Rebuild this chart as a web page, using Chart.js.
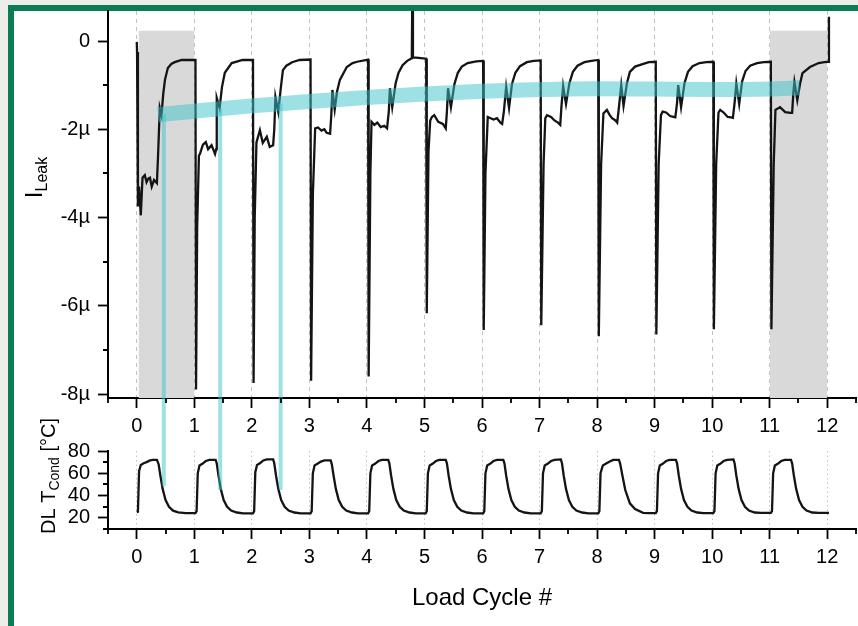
<!DOCTYPE html>
<html>
<head>
<meta charset="utf-8">
<script src="https://cdn.jsdelivr.net/npm/chart.js@4.4.1/dist/chart.umd.min.js"></script>
<style>
html, body { margin: 0; padding: 0; background: #ededea; overflow: hidden; width: 858px; height: 626px; }
#frame { position: absolute; left: 8px; top: 5px; width: 900px; height: 700px; border: 6px solid #0b7d52; background: #fff; }
canvas { position: absolute; left: 0; }
#leak { top: 0; }
#temp { top: 400px; }
</style>
</head>
<body>
<div id="frame"></div>
<canvas id="leak" width="858" height="440"></canvas>
<canvas id="temp" width="858" height="226"></canvas>
<script>
const FONT = "'Liberation Sans', Arial, sans-serif";

// axes
const xTicks = [0, 1, 2, 3, 4, 5, 6, 7, 8, 9, 10, 11, 12];
const xMinor = [-0.5, 0.5, 1.5, 2.5, 3.5, 4.5, 5.5, 6.5, 7.5, 8.5, 9.5, 10.5, 11.5, 12.5];
const leakTicks = [-8, -6, -4, -2, 0];
const leakMinor = [-7, -5, -3, -1];
const tempTicks = [20, 40, 60, 80];
const tempMinor = [10, 30, 50, 70];

// shaded cycles (first and last)
const grayBoxes = [[0.03, 1], [11, 12]];
const boxTop = 0.23;

// leakage current, in µA
const leakData = [
  [0,-0.02],[0.005,-0.25],[0.02,-3.75],[0.04,-3.3],[0.07,-3.95],[0.1,-3.1],[0.14,-3.04],[0.17,-3.2],[0.2,-3.12],[0.23,-3.1],[0.26,-3.3],[0.3,-3.15],[0.35,-3.22],[0.37,-2.6],[0.4,-1.52],[0.43,-1.68],[0.46,-1.2],[0.49,-0.88],[0.54,-0.61],[0.6,-0.52],[0.66,-0.48],[0.78,-0.43],[1.02,-0.43],
  [1.03,-7.9],[1.05,-4.2],[1.08,-2.6],[1.1,-2.55],[1.15,-2.35],[1.2,-2.29],[1.24,-2.45],[1.3,-2.36],[1.36,-2.56],[1.38,-2.45],[1.39,-1.29],[1.44,-1.52],[1.48,-1.05],[1.53,-0.72],[1.65,-0.5],[1.84,-0.43],[2.02,-0.43],
  [2.03,-7.75],[2.05,-4.0],[2.08,-2.3],[2.14,-2.02],[2.19,-2.31],[2.26,-2.17],[2.31,-2.4],[2.37,-2.36],[2.39,-2.0],[2.41,-1.27],[2.46,-1.61],[2.5,-1.1],[2.54,-0.66],[2.6,-0.56],[2.7,-0.48],[2.83,-0.43],[3.02,-0.42],
  [3.03,-7.7],[3.06,-3.5],[3.1,-1.98],[3.15,-1.96],[3.21,-2.03],[3.26,-2.0],[3.3,-2.08],[3.36,-2.1],[3.38,-1.7],[3.4,-1.11],[3.44,-1.55],[3.48,-1.15],[3.53,-0.88],[3.65,-0.59],[3.75,-0.5],[3.83,-0.47],[4.02,-0.42],
  [4.03,-7.6],[4.06,-3.0],[4.08,-1.83],[4.13,-1.9],[4.18,-1.85],[4.24,-1.95],[4.3,-1.92],[4.35,-1.98],[4.38,-1.6],[4.4,-1.07],[4.44,-1.5],[4.5,-0.95],[4.55,-0.72],[4.62,-0.55],[4.7,-0.45],[4.78,-0.39],[4.79,1.2],[4.8,-0.37],[4.9,-0.38],[5.03,-0.4],
  [5.04,-6.17],[5.07,-2.5],[5.1,-1.8],[5.13,-1.72],[5.17,-1.68],[5.24,-1.83],[5.32,-1.88],[5.37,-1.98],[5.39,-1.6],[5.41,-1.07],[5.46,-1.5],[5.52,-0.98],[5.58,-0.72],[5.65,-0.58],[5.75,-0.5],[5.9,-0.46],[6.02,-0.45],
  [6.03,-6.55],[6.06,-3.0],[6.1,-1.72],[6.15,-1.75],[6.2,-1.78],[6.26,-1.75],[6.32,-1.85],[6.35,-1.88],[6.38,-1.6],[6.42,-1.04],[6.47,-1.52],[6.52,-0.98],[6.58,-0.72],[6.66,-0.57],[6.78,-0.48],[6.9,-0.45],[7.02,-0.44],
  [7.03,-6.44],[7.07,-2.8],[7.1,-1.75],[7.13,-1.68],[7.2,-1.72],[7.26,-1.8],[7.32,-1.85],[7.36,-1.9],[7.38,-1.5],[7.41,-1.02],[7.46,-1.43],[7.52,-0.95],[7.58,-0.7],[7.66,-0.56],[7.78,-0.48],[7.9,-0.45],[8.02,-0.43],
  [8.03,-6.69],[8.07,-2.8],[8.11,-1.64],[8.17,-1.56],[8.22,-1.68],[8.26,-1.75],[8.32,-1.8],[8.35,-1.85],[8.38,-1.5],[8.42,-1.0],[8.46,-1.47],[8.52,-0.95],[8.57,-0.7],[8.66,-0.58],[8.75,-0.54],[8.9,-0.48],[9.02,-0.47],
  [9.03,-6.65],[9.07,-2.8],[9.11,-1.68],[9.14,-1.6],[9.2,-1.62],[9.27,-1.7],[9.33,-1.72],[9.36,-1.73],[9.39,-1.4],[9.41,-1.0],[9.46,-1.5],[9.52,-0.95],[9.58,-0.7],[9.66,-0.57],[9.78,-0.5],[9.9,-0.48],[10.02,-0.47],
  [10.03,-6.53],[10.07,-2.8],[10.11,-1.62],[10.14,-1.56],[10.2,-1.62],[10.27,-1.72],[10.33,-1.73],[10.36,-1.74],[10.39,-1.4],[10.42,-0.96],[10.47,-1.43],[10.52,-0.92],[10.58,-0.68],[10.66,-0.56],[10.78,-0.5],[10.9,-0.48],[11.02,-0.47],
  [11.03,-6.53],[11.07,-2.8],[11.1,-1.56],[11.18,-1.5],[11.27,-1.61],[11.36,-1.63],[11.39,-1.63],[11.41,-1.2],[11.43,-0.93],[11.48,-1.34],[11.53,-0.95],[11.57,-0.73],[11.7,-0.59],[11.85,-0.5],[11.95,-0.48],[12.02,-0.47],[12.03,0.55]
];

// trend band through the current notches
const bandData = [[0.37,-1.67],[1,-1.59],[2,-1.47],[3,-1.37],[4,-1.28],[5,-1.2],[6,-1.14],[7,-1.1],[8,-1.08],[9,-1.09],[10,-1.1],[11,-1.09],[11.52,-1.06]];

// cyan markers linking the notch to the temperature
const markX = [0.47, 1.45, 2.5];
const markLeak = [-1.66, -1.53, -1.42];
const markTemp = [48.6, 45, 45];
const markLeakEnd = -14;
const markTempEnd = 200;

// conductor temperature, °C
const tempData = [
  [0,25],[0.02,25.5],[0.04,62],[0.07,67.5],[0.12,69],[0.17,70],[0.23,71.5],[0.28,72],[0.35,72],[0.38,68],[0.41,58],[0.45,46],[0.5,36],[0.56,30],[0.63,26.5],[0.72,25],[0.85,24.2],[1.02,24.2],
  [1.04,26],[1.06,60],[1.09,67],[1.14,68.5],[1.2,71],[1.26,72],[1.37,72],[1.39,69],[1.42,58],[1.46,46],[1.51,36],[1.57,30],[1.64,26.5],[1.74,24.8],[1.85,24],[2.02,24],
  [2.04,26],[2.06,61],[2.09,67.5],[2.14,69],[2.2,71.5],[2.26,72.5],[2.37,72.5],[2.39,69],[2.42,58],[2.46,46],[2.51,36],[2.57,30],[2.64,26.5],[2.74,24.8],[2.85,24],[3.02,24],
  [3.04,26],[3.06,60],[3.09,67],[3.14,68.5],[3.2,70.5],[3.26,71.5],[3.37,71.5],[3.39,68],[3.42,58],[3.46,46],[3.51,36],[3.57,30],[3.64,26.5],[3.74,24.8],[3.85,24],[4.02,24],
  [4.04,26],[4.06,60],[4.09,67],[4.14,68.5],[4.2,71],[4.26,72],[4.37,72],[4.39,69],[4.42,58],[4.46,46],[4.51,36],[4.57,30],[4.64,26.5],[4.74,24.8],[4.85,24],[5.02,24],
  [5.04,26],[5.06,60],[5.09,67],[5.14,68.5],[5.2,71],[5.26,72],[5.37,72],[5.39,69],[5.42,58],[5.46,46],[5.51,36],[5.57,30],[5.64,26.5],[5.74,24.8],[5.85,24],[6.02,24],
  [6.04,26],[6.06,60],[6.09,67],[6.14,68.5],[6.2,71],[6.26,72],[6.37,72],[6.39,69],[6.42,58],[6.46,46],[6.51,36],[6.57,30],[6.64,26.5],[6.74,24.8],[6.85,24],[7.02,24],
  [7.04,26],[7.06,60],[7.09,67],[7.14,68.5],[7.2,71],[7.26,72],[7.37,72.5],[7.39,69],[7.42,58],[7.46,46],[7.51,36],[7.57,30],[7.64,26.5],[7.74,24.8],[7.85,24],[8.02,24],
  [8.04,26],[8.06,60],[8.1,67],[8.15,68.5],[8.22,70.5],[8.28,72],[8.38,72],[8.4,69],[8.44,58],[8.49,45],[8.57,33],[8.66,28],[8.8,24.5],[8.9,24.2],[9.02,24.2],
  [9.04,26],[9.06,60],[9.09,67],[9.14,68.5],[9.2,71],[9.26,72],[9.37,72],[9.39,69],[9.42,58],[9.46,46],[9.51,36],[9.57,30],[9.64,26.5],[9.74,24.8],[9.85,24.2],[10.02,24.2],
  [10.04,26],[10.06,60],[10.09,67],[10.14,68.5],[10.2,71],[10.26,72],[10.37,72.5],[10.39,69],[10.42,58],[10.46,46],[10.51,36],[10.57,30],[10.64,26.5],[10.74,24.8],[10.85,24.5],[11.02,24.5],
  [11.04,26],[11.06,60],[11.09,67],[11.14,68.5],[11.2,71],[11.26,72],[11.37,72],[11.39,69],[11.42,58],[11.46,46],[11.51,36],[11.57,30],[11.64,26.5],[11.74,24.8],[11.85,24.5],[12.03,24.5]
];

const pts = arr => arr.map(p => ({ x: p[0], y: p[1] }));

const minorTicks = {
  id: 'minorTicks',
  afterDraw(chart, args, o) {
    const ctx = chart.ctx, xs = chart.scales.x, ys = chart.scales.y;
    ctx.save();
    ctx.strokeStyle = '#000';
    ctx.lineWidth = 1.8;
    ctx.beginPath();
    o.x.forEach(v => {
      const p = Math.round(xs.getPixelForValue(v));
      ctx.moveTo(p, xs.top); ctx.lineTo(p, xs.top + 5);
    });
    o.y.forEach(v => {
      const p = Math.round(ys.getPixelForValue(v));
      ctx.moveTo(ys.right, p); ctx.lineTo(ys.right - 5, p);
    });
    ctx.stroke();
    ctx.restore();
  }
};

// rotated y title with a subscript
const richTitle = {
  id: 'richTitle',
  afterDraw(chart, args, o) {
    const ctx = chart.ctx, a = chart.chartArea;
    ctx.save();
    let total = 0;
    o.parts.forEach(p => { ctx.font = p.size + 'px ' + FONT; p.w = ctx.measureText(p.text).width; total += p.w; });
    ctx.translate(o.x, (a.top + a.bottom) / 2 + o.dy + total / 2);
    ctx.rotate(-Math.PI / 2);
    ctx.fillStyle = '#000';
    ctx.textBaseline = 'alphabetic';
    let cx = 0;
    o.parts.forEach(p => {
      ctx.font = p.size + 'px ' + FONT;
      ctx.fillText(p.text, cx, p.sub ? o.subShift : 0);
      cx += p.w;
    });
    ctx.restore();
  }
};

function xAxis(dash, extra) {
  return Object.assign({
    type: 'linear', min: -0.5, max: 12.5,
    afterBuildTicks: s => { s.ticks = xTicks.map(v => ({ value: v })); },
    grid: { color: '#c2c2c2', lineWidth: 1, drawTicks: true, tickLength: 10, tickColor: '#000', tickWidth: 1.8, tickBorderDash: [] },
    border: { color: '#000', width: 2, dash: dash },
    ticks: { color: '#000', font: { size: 20 }, padding: 6, maxRotation: 0, autoSkip: false }
  }, extra);
}

function yAxis(min, max, tickVals, cb) {
  return {
    type: 'linear', min: min, max: max,
    afterBuildTicks: s => { s.ticks = tickVals.map(v => ({ value: v })); },
    afterFit: s => { s.width = 108; s.paddingTop = 0; s.paddingBottom = 0; },
    grid: { drawOnChartArea: false, drawTicks: true, tickLength: 10, tickColor: '#000', tickWidth: 1.8 },
    border: { color: '#000', width: 2 },
    ticks: { color: '#000', font: { size: 20 }, padding: 8, autoSkip: false, callback: cb }
  };
}

Chart.defaults.font.family = FONT;

const cyan = 'rgba(60, 196, 204, 0.5)';

const leakSets = [];
grayBoxes.forEach(b => leakSets.push({
  data: pts([[b[0], boxTop], [b[1], boxTop]]),
  borderWidth: 0, backgroundColor: '#d9d9d9', fill: 'start', pointRadius: 0, order: 10
}));
leakSets.push({ data: pts(leakData), borderColor: '#141414', borderWidth: 2.3, pointRadius: 0, tension: 0, fill: false, order: 5 });
leakSets.push({ data: pts(bandData), borderColor: cyan, borderWidth: 15, borderCapStyle: 'butt', cubicInterpolationMode: 'monotone', pointRadius: 0, fill: false, order: 3 });
// markers may run past the plot down to the edge of this canvas (42 px below the area)
markX.forEach((x, i) => leakSets.push({
  data: pts([[x, markLeak[i]], [x, markLeakEnd]]), borderColor: cyan, borderWidth: 4, pointRadius: 0, fill: false,
  clip: { left: false, right: false, top: 0, bottom: 42 }, order: 1
}));

new Chart(document.getElementById('leak'), {
  type: 'line',
  data: { datasets: leakSets },
  options: {
    responsive: false, animation: false, events: [],
    layout: { padding: { left: 0, right: 2, top: 11, bottom: 0 } },
    plugins: {
      legend: { display: false }, tooltip: { enabled: false },
      minorTicks: { x: xMinor, y: leakMinor },
      richTitle: { x: 42, dy: -27, subShift: 5, parts: [{ text: 'I', size: 24 }, { text: 'Leak', size: 16, sub: true }] }
    },
    scales: {
      x: xAxis([4, 4], { afterFit: s => { s.height = 42; s.paddingLeft = 0; s.paddingRight = 0; } }),
      y: yAxis(-8.09, 0.68, leakTicks, v => v === 0 ? '0' : v + 'µ')
    }
  },
  plugins: [minorTicks, richTitle]
});

const tempSets = [{ data: pts(tempData), borderColor: '#141414', borderWidth: 2.3, pointRadius: 0, tension: 0, fill: false, order: 5 }];
// markers continue upward only to where the upper canvas ends (11 px above this area)
markX.forEach((x, i) => tempSets.push({
  data: pts([[x, markTemp[i]], [x, markTempEnd]]), borderColor: cyan, borderWidth: 4, pointRadius: 0, fill: false,
  clip: { left: false, right: false, top: 11, bottom: 0 }, order: 1
}));

new Chart(document.getElementById('temp'), {
  type: 'line',
  data: { datasets: tempSets },
  options: {
    responsive: false, animation: false, events: [],
    layout: { padding: { left: 0, right: 2, top: 51, bottom: 0 } },
    plugins: {
      legend: { display: false }, tooltip: { enabled: false },
      minorTicks: { x: xMinor, y: tempMinor },
      richTitle: { x: 55, dy: -14, subShift: 4, parts: [{ text: 'DL T', size: 20 }, { text: 'Cond', size: 14, sub: true }, { text: ' [°C]', size: 20 }] }
    },
    scales: {
      x: xAxis([1.5, 3], {
        afterFit: s => { s.height = 97; s.paddingLeft = 0; s.paddingRight = 0; },
        title: { display: true, text: 'Load Cycle #', color: '#000', font: { size: 24 }, padding: { top: 0, bottom: 13 } }
      }),
      y: yAxis(10, 80, tempTicks, v => String(v))
    }
  },
  plugins: [minorTicks, richTitle]
});
</script>
</body>
</html>
